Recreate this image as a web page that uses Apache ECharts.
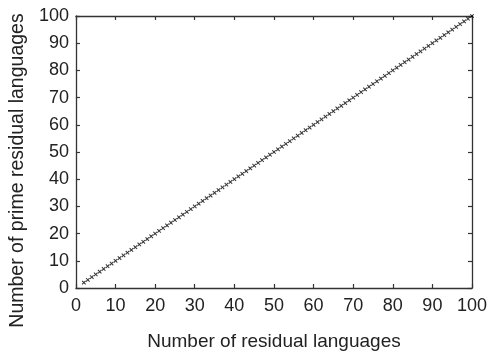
<!DOCTYPE html>
<html>
<head>
<meta charset="utf-8">
<script src="https://cdn.jsdelivr.net/npm/echarts@6/dist/echarts.min.js"></script>
<style>
  html, body { margin: 0; padding: 0; background: #fff; }
  #chart { width: 490px; height: 356px; }
</style>
</head>
<body>
<div id="chart"></div>
<script>
// Residual language counts and how many of them are prime
const residualLanguages = [
  2, 3, 4, 5, 6, 7, 8, 9, 10, 11, 12, 13, 14, 15, 16, 17, 18, 19, 20,
  21, 22, 23, 24, 25, 26, 27, 28, 29, 30, 31, 32, 33, 34, 35, 36, 37, 38, 39, 40,
  41, 42, 43, 44, 45, 46, 47, 48, 49, 50, 51, 52, 53, 54, 55, 56, 57, 58, 59, 60,
  61, 62, 63, 64, 65, 66, 67, 68, 69, 70, 71, 72, 73, 74, 75, 76, 77, 78, 79, 80,
  81, 82, 83, 84, 85, 86, 87, 88, 89, 90, 91, 92, 93, 94, 95, 96, 97, 98, 99, 100
];
const primeResidualLanguages = [
  2, 3, 4, 5, 6, 7, 8, 9, 10, 11, 12, 13, 14, 15, 16, 17, 18, 19, 20,
  21, 22, 23, 24, 25, 26, 27, 28, 29, 30, 31, 32, 33, 34, 35, 36, 37, 38, 39, 40,
  41, 42, 43, 44, 45, 46, 47, 48, 49, 50, 51, 52, 53, 54, 55, 56, 57, 58, 59, 60,
  61, 62, 63, 64, 65, 66, 67, 68, 69, 70, 71, 72, 73, 74, 75, 76, 77, 78, 79, 80,
  81, 82, 83, 84, 85, 86, 87, 88, 89, 90, 91, 92, 93, 94, 95, 96, 97, 98, 99, 100
];
const tickValues = [0, 10, 20, 30, 40, 50, 60, 70, 80, 90, 100];

const points = residualLanguages.map((x, i) => [x, primeResidualLanguages[i]]);

const FONT = '"Liberation Sans", Arial, sans-serif';
const AXIS_COLOR = '#333333';
const TEXT_COLOR = '#222222';

const baseAxis = {
  type: 'value',
  min: 0,
  max: 100,
  interval: 10,
  axisLine: { show: true, onZero: false, lineStyle: { color: AXIS_COLOR, width: 1.3 } },
  axisTick: { show: true, inside: true, length: 4, lineStyle: { color: AXIS_COLOR, width: 1.2 } },
  splitLine: { show: false },
  axisLabel: {
    color: TEXT_COLOR, fontFamily: FONT, fontSize: 18,
    formatter: v => tickValues.includes(v) ? String(v) : ''
  }
};

const chart = echarts.init(document.getElementById('chart'), null, { renderer: 'canvas' });
chart.setOption({
  animation: false,
  backgroundColor: '#fff',
  grid: { left: 74, right: 17, top: 16, bottom: 60, containLabel: false },
  xAxis: [
    Object.assign({}, baseAxis, {
      position: 'bottom',
      name: 'Number of residual languages',
      nameLocation: 'middle',
      nameGap: 44,
      nameTextStyle: { color: TEXT_COLOR, fontFamily: FONT, fontSize: 19 },
      axisLabel: Object.assign({}, baseAxis.axisLabel, { margin: 9 })
    }),
    Object.assign({}, baseAxis, { position: 'top', axisLabel: { show: false } })
  ],
  yAxis: [
    Object.assign({}, baseAxis, {
      position: 'left',
      name: 'Number of prime residual languages',
      nameLocation: 'middle',
      nameGap: 45,
      nameTextStyle: { color: TEXT_COLOR, fontFamily: FONT, fontSize: 19.5, padding: [0, 37, 0, 0] },
      axisLabel: Object.assign({}, baseAxis.axisLabel, { margin: 7 })
    }),
    Object.assign({}, baseAxis, { position: 'right', axisLabel: { show: false } })
  ],
  series: [{
    type: 'scatter',
    xAxisIndex: 0,
    yAxisIndex: 0,
    data: points,
    symbol: 'path://M4,0H6V4H10V6H6V10H4V6H0V4H4Z',
    symbolRotate: 45,
    symbolSize: 5,
    itemStyle: { color: '#000' }
  }]
});
</script>
</body>
</html>
